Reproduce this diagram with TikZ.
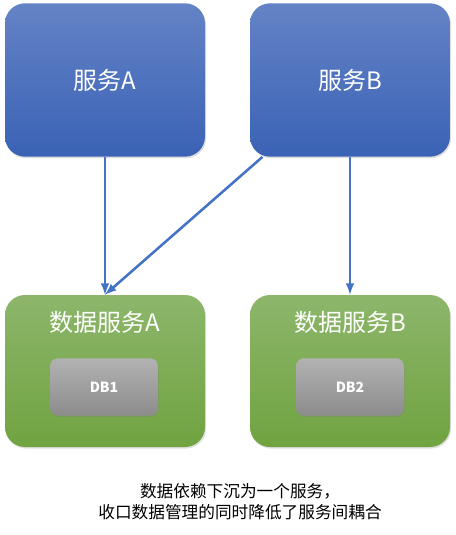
\documentclass[tikz,border=0pt]{standalone}
\usepackage{fontspec}
\setmainfont{Noto Sans CJK SC}
\usepackage{tikz}
\usetikzlibrary{arrows,shadows}
\definecolor{svcblue}{HTML}{4472C4}
\definecolor{svctop}{HTML}{6483C6}
\definecolor{svcbot}{HTML}{3A62B5}
\definecolor{datatop}{HTML}{8DB66B}
\definecolor{databot}{HTML}{70A340}
\definecolor{dbtop}{HTML}{B2B2B2}
\definecolor{dbbot}{HTML}{8C8C8C}
\tikzset{
	service/.style  = {rectangle, rounded corners = 15pt, top color = svctop,
		bottom color = svcbot, minimum width = 150pt, minimum height = 115pt,
		text = white, font = \fontsize{18}{20}\selectfont,
		drop shadow = {opacity = 0.25, shadow xshift = 0.8pt, shadow yshift = -1.2pt}},
	dataservice/.style = {rectangle, rounded corners = 15pt, top color = datatop,
		bottom color = databot, minimum width = 150pt, minimum height = 114pt,
		drop shadow = {opacity = 0.25, shadow xshift = 0.8pt, shadow yshift = -1.2pt}},
	title/.style    = {text = white, font = \fontsize{18}{20}\selectfont},
	db/.style       = {rectangle, rounded corners = 6pt, top color = dbtop,
		bottom color = dbbot, minimum width = 81pt, minimum height = 43pt,
		text = white, font = \fontsize{10.5}{12}\selectfont\bfseries,
		drop shadow = {opacity = 0.3, shadow xshift = 0.6pt, shadow yshift = -1pt}},
	link/.style     = {draw = svcblue, line width = 1.9pt, -latex}
}

\begin{document}
\begin{tikzpicture}[x = 0.75pt, y = -0.75pt, >=latex]
	\useasboundingbox (0,0) rectangle (455,535);
	\draw
	node at (105,80)[service] (svcA) {服务A}
	node at (350,80)[service] (svcB) {服务B}
	node at (105,371)[dataservice] (dataA) {}
	node at (350,371)[dataservice] (dataB) {};
	
	\draw
	node at (105,322)[title] (titleA) {数据服务A}
	node at (350,322)[title] (titleB) {数据服务B}
	node at (104,387)[db] (db1) {DB1}
	node at (350,387)[db] (db2) {DB2};
	
	\draw[link] (svcA) -- (dataA);
	\draw[link] (svcB) -- (dataA.north);
	\draw[link] (svcB) -- (dataB);
	
	% note below the boxes
	\node[align = center, font = \fontsize{12.5}{15.75}\selectfont] (note) at (240,502)
	{数据依赖下沉为一个服务，\\收口数据管理的同时降低了服务间耦合};
\end{tikzpicture}
\end{document}
